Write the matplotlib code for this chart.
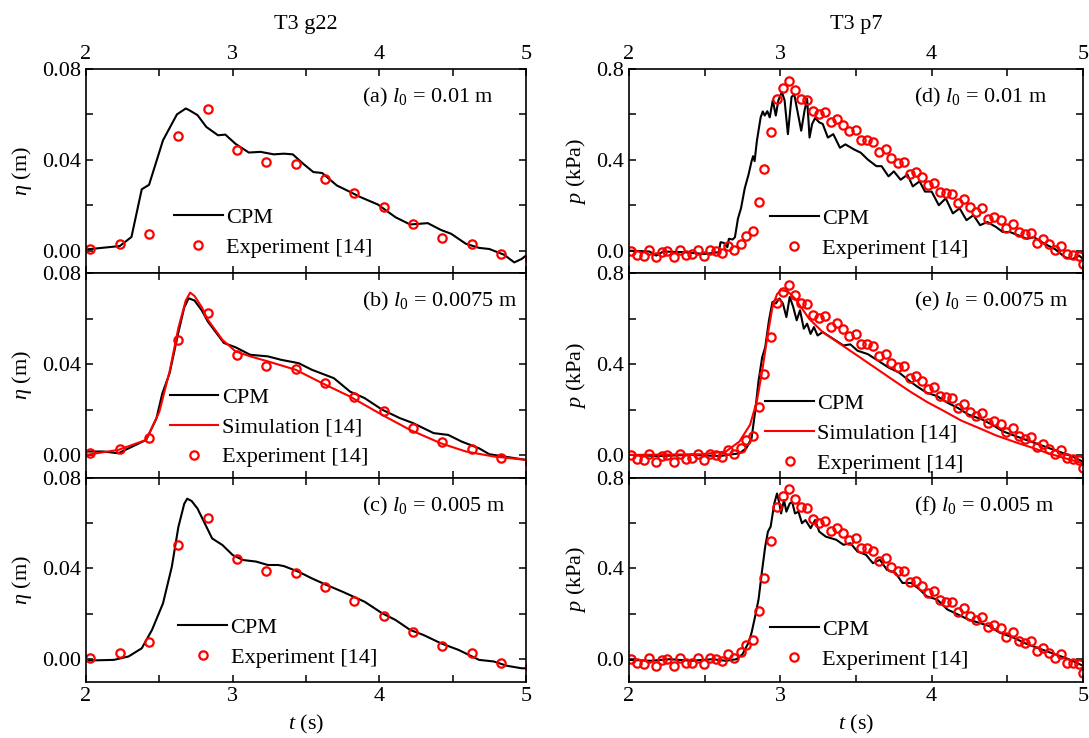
import matplotlib
matplotlib.use("Agg")
import matplotlib.pyplot as plt
from matplotlib.ticker import MultipleLocator, FormatStrFormatter

plt.rcParams['font.family'] = 'serif'
plt.rcParams['font.serif'] = ['Liberation Serif', 'DejaVu Serif']
plt.rcParams['mathtext.fontset'] = 'custom'
plt.rcParams['mathtext.rm'] = 'Liberation Serif'
plt.rcParams['mathtext.it'] = 'Liberation Serif:italic'
plt.rcParams['font.size'] = 16

# ---- T3 g22 : free surface elevation (m) ----
exp_g_t = [2.03, 2.23, 2.43, 2.63, 2.83, 3.03, 3.23, 3.43, 3.63, 3.83, 4.03, 4.23, 4.43, 4.63, 4.83, 5.03]
exp_g = [0.0007, 0.0027, 0.0074, 0.0505, 0.0623, 0.0442, 0.039, 0.038, 0.0317, 0.0255,
         0.0192, 0.0118, 0.0056, 0.0027, -0.0015, -0.0035]

cpm_a_t = [2.0, 2.23, 2.31, 2.38, 2.43, 2.525, 2.62, 2.68, 2.70, 2.76, 2.82, 2.90, 2.95, 3.02, 3.11,
           3.19, 3.28, 3.35, 3.41, 3.48, 3.55, 3.61, 3.71, 3.78, 3.87, 3.99, 4.11, 4.21, 4.33, 4.42,
           4.49, 4.59, 4.68, 4.75, 4.85, 4.92, 4.97, 5.0]
cpm_a = [0.0005, 0.002, 0.006, 0.027, 0.029, 0.0486, 0.060, 0.0626, 0.062, 0.0597, 0.0545, 0.0508,
         0.0511, 0.047, 0.0432, 0.0435, 0.0424, 0.0427, 0.0424, 0.0383, 0.0346, 0.0342, 0.0287,
         0.0265, 0.0236, 0.0203, 0.0147, 0.0115, 0.0121, 0.0091, 0.0074, 0.003, 0.0012, 0.0007,
         -0.0018, -0.0052, -0.0037, -0.0022]

cpm_b_t = [2.0, 2.12, 2.22, 2.41, 2.48, 2.52, 2.57, 2.63, 2.67, 2.70, 2.74, 2.79, 2.83, 2.94, 3.02,
           3.12, 3.24, 3.33, 3.45, 3.54, 3.69, 3.80, 3.90, 4.02, 4.14, 4.23, 4.37, 4.47, 4.56, 4.68,
           4.75, 4.85, 5.0]
cpm_b = [0.0015, 0.0015, 0.0007, 0.0066, 0.016, 0.027, 0.036, 0.054, 0.065, 0.069, 0.068, 0.0636,
         0.0588, 0.0493, 0.0474, 0.0441, 0.0434, 0.0419, 0.0404, 0.0375, 0.0338, 0.0279, 0.025,
         0.0199, 0.0162, 0.014, 0.0096, 0.0088, 0.0059, 0.0029, 0.0003, -0.0007, -0.0022]

sim_b_t = [2.0, 2.22, 2.41, 2.50, 2.57, 2.63, 2.68, 2.71, 2.74, 2.79, 2.83, 2.93, 3.02, 3.12, 3.24,
           3.43, 3.61, 3.80, 4.02, 4.21, 4.42, 4.59, 4.78, 5.0]
sim_b = [0.0, 0.0022, 0.0066, 0.019, 0.0368, 0.056, 0.068, 0.0715, 0.070, 0.065, 0.0596, 0.0507,
         0.0456, 0.0434, 0.0412, 0.0375, 0.0316, 0.0257, 0.0176, 0.011, 0.0051, 0.0015, -0.0007,
         -0.0022]

cpm_c_t = [2.0, 2.19, 2.29, 2.38, 2.45, 2.525, 2.585, 2.63, 2.67, 2.69, 2.72, 2.76, 2.81, 2.86, 2.93,
           3.00, 3.07, 3.16, 3.24, 3.31, 3.35, 3.45, 3.54, 3.64, 3.75, 3.90, 4.02, 4.11, 4.21, 4.30,
           4.42, 4.54, 4.68, 4.78, 4.87, 4.97, 5.0]
cpm_c = [-0.0006, -0.0003, 0.0012, 0.0048, 0.0129, 0.0246, 0.0407, 0.0583, 0.0685, 0.0707, 0.0697,
         0.0664, 0.0598, 0.0532, 0.0503, 0.0459, 0.0437, 0.043, 0.0415, 0.0415, 0.041, 0.0385,
         0.0356, 0.0327, 0.0297, 0.0253, 0.0202, 0.0173, 0.0129, 0.0107, 0.007, 0.0041, -0.0003,
         -0.001, -0.0029, -0.004, -0.004]

# ---- T3 p7 : pressure (kPa) ----
exp_p_t = [2.016, 2.055, 2.096, 2.135, 2.176, 2.218, 2.254, 2.295, 2.337, 2.376, 2.414, 2.456, 2.497,
           2.536, 2.575, 2.616, 2.655, 2.696, 2.737, 2.776, 2.818, 2.856, 2.895, 2.937, 2.976, 3.017,
           3.058, 3.097, 3.138, 3.177, 3.216, 3.257, 3.296, 3.335, 3.376, 3.417, 3.456, 3.498, 3.532,
           3.573, 3.614, 3.653, 3.695, 3.733, 3.775, 3.816, 3.855, 3.896, 3.935, 3.974, 4.013, 4.054,
           4.095, 4.134, 4.173, 4.214, 4.253, 4.294, 4.333, 4.375, 4.414, 4.455, 4.494, 4.535, 4.574,
           4.615, 4.654, 4.695, 4.734, 4.775, 4.814, 4.855, 4.894, 4.933, 4.975, 5.0]
exp_p = [0.000, -0.018, -0.022, 0.004, -0.030, -0.004, 0.000, -0.030, 0.004, -0.018, -0.015, 0.004,
         -0.022, 0.004, 0.000, -0.010, 0.022, 0.004, 0.030, 0.064, 0.085, 0.213, 0.358, 0.521, 0.669,
         0.718, 0.748, 0.706, 0.669, 0.665, 0.617, 0.602, 0.610, 0.565, 0.580, 0.555, 0.525, 0.532,
         0.488, 0.488, 0.478, 0.434, 0.446, 0.406, 0.387, 0.390, 0.339, 0.346, 0.324, 0.290, 0.300,
         0.260, 0.253, 0.250, 0.208, 0.226, 0.190, 0.171, 0.186, 0.141, 0.149, 0.137, 0.100, 0.119,
         0.082, 0.071, 0.079, 0.034, 0.049, 0.027, 0.004, 0.022, -0.015, -0.018, -0.022, -0.059]

cpm_d_t = [2.0, 2.135, 2.18, 2.227, 2.364, 2.5, 2.593, 2.605, 2.627, 2.65, 2.66, 2.685, 2.70, 2.72,
           2.74, 2.765, 2.79, 2.81, 2.82, 2.83, 2.845, 2.87, 2.884, 2.897, 2.914, 2.93, 2.95, 2.97,
           2.987, 3.01, 3.028, 3.05, 3.074, 3.092, 3.108, 3.138, 3.16, 3.177, 3.193, 3.21, 3.23,
           3.257, 3.28, 3.314, 3.35, 3.394, 3.43, 3.486, 3.532, 3.578, 3.635, 3.669, 3.715, 3.75,
           3.795, 3.84, 3.875, 3.92, 3.956, 4.0, 4.047, 4.093, 4.14, 4.185, 4.23, 4.276, 4.32, 4.368,
           4.425, 4.47, 4.516, 4.574, 4.63, 4.677, 4.746, 4.814, 4.883, 4.93, 4.975, 5.0]
cpm_d = [0.0, -0.004, -0.022, -0.004, -0.007, -0.015, -0.007, 0.037, 0.034, 0.015, 0.052, 0.049,
         0.059, 0.141, 0.186, 0.275, 0.335, 0.394, 0.416, 0.394, 0.483, 0.587, 0.613, 0.595, 0.614,
         0.587, 0.662, 0.595, 0.662, 0.699, 0.662, 0.513, 0.677, 0.688, 0.632, 0.528, 0.617, 0.669,
         0.498, 0.558, 0.584, 0.565, 0.558, 0.498, 0.513, 0.453, 0.468, 0.446, 0.431, 0.401, 0.372,
         0.372, 0.327, 0.349, 0.312, 0.335, 0.283, 0.305, 0.260, 0.26, 0.2, 0.23, 0.164, 0.186,
         0.134, 0.156, 0.112, 0.126, 0.104, 0.082, 0.082, 0.067, 0.052, 0.059, 0.030, 0.007, -0.030,
         -0.037, -0.022, -0.037]

cpm_e_t = [2.0, 2.2, 2.4, 2.6, 2.73, 2.776, 2.81, 2.834, 2.856, 2.88, 2.90, 2.925, 2.948, 2.97,
           2.994, 3.017, 3.04, 3.062, 3.085, 3.108, 3.13, 3.155, 3.177, 3.2, 3.222, 3.246, 3.28,
           3.35, 3.417, 3.463, 3.51, 3.578, 3.646, 3.715, 3.784, 3.853, 3.898, 3.967, 4.036, 4.104,
           4.173, 4.242, 4.333, 4.4, 4.47, 4.562, 4.654, 4.746, 4.838, 4.93, 5.0]
cpm_e = [0.0, -0.005, 0.0, -0.005, 0.007, 0.03, 0.074, 0.193, 0.326, 0.43, 0.474, 0.593, 0.674,
         0.667, 0.689, 0.667, 0.607, 0.696, 0.652, 0.593, 0.637, 0.556, 0.578, 0.533, 0.563, 0.526,
         0.541, 0.511, 0.482, 0.487, 0.459, 0.444, 0.415, 0.385, 0.363, 0.326, 0.304, 0.274, 0.259,
         0.23, 0.207, 0.178, 0.156, 0.133, 0.104, 0.081, 0.059, 0.037, 0.015, -0.007, -0.03]

sim_e_t = [2.0, 2.48, 2.64, 2.73, 2.8, 2.845, 2.88, 2.914, 2.948, 2.978, 3.005, 3.05, 3.097, 3.19,
           3.28, 3.395, 3.51, 3.624, 3.738, 3.853, 3.967, 4.082, 4.196, 4.31, 4.425, 4.54, 4.654,
           4.77, 4.883, 5.0]
sim_e = [0.0, 0.003, 0.015, 0.059, 0.133, 0.237, 0.37, 0.519, 0.652, 0.708, 0.726, 0.719, 0.689,
         0.6, 0.541, 0.489, 0.437, 0.385, 0.333, 0.281, 0.234, 0.193, 0.151, 0.119, 0.086, 0.059,
         0.034, 0.007, -0.015, -0.037]

cpm_f_t = [2.0, 2.14, 2.27, 2.41, 2.55, 2.64, 2.71, 2.75, 2.79, 2.81, 2.834, 2.856, 2.88, 2.90,
           2.918, 2.936, 2.96, 2.978, 2.994, 3.005, 3.024, 3.04, 3.062, 3.078, 3.097, 3.12, 3.143,
           3.166, 3.2, 3.23, 3.257, 3.3, 3.37, 3.417, 3.463, 3.51, 3.566, 3.612, 3.658, 3.704, 3.761,
           3.807, 3.864, 3.921, 3.967, 4.036, 4.104, 4.173, 4.242, 4.31, 4.38, 4.449, 4.54, 4.632,
           4.723, 4.814, 4.906, 5.0]
cpm_f = [-0.003, -0.007, 0.0, -0.007, 0.0, -0.007, 0.0, 0.022, 0.073, 0.117, 0.19, 0.263, 0.394,
         0.496, 0.562, 0.584, 0.686, 0.73, 0.686, 0.642, 0.701, 0.65, 0.686, 0.693, 0.642, 0.65,
         0.599, 0.613, 0.577, 0.613, 0.562, 0.54, 0.526, 0.504, 0.511, 0.474, 0.46, 0.423, 0.438,
         0.394, 0.38, 0.336, 0.336, 0.307, 0.277, 0.263, 0.219, 0.197, 0.175, 0.161, 0.146, 0.117,
         0.095, 0.066, 0.044, 0.022, 0.0, -0.029]

left_tags = ["(a) $l_0$ = 0.01 m", "(b) $l_0$ = 0.0075 m", "(c) $l_0$ = 0.005 m"]
right_tags = ["(d) $l_0$ = 0.01 m", "(e) $l_0$ = 0.0075 m", "(f) $l_0$ = 0.005 m"]

W, H = 1089, 738
fig = plt.figure(figsize=(W / 100, H / 100), dpi=100)

row_h = 204.3
tops = [69, 69 + row_h, 69 + 2 * row_h]


def make_ax(x0, w, top):
    return fig.add_axes([x0 / W, 1 - (top + row_h) / H, w / W, row_h / H])


def style(ax, row, ylim, ymaj, fmt):
    ax.set_xlim(2, 5)
    ax.set_ylim(*ylim)
    ax.xaxis.set_major_locator(MultipleLocator(1))
    ax.xaxis.set_minor_locator(MultipleLocator(0.5))
    ax.yaxis.set_major_locator(MultipleLocator(ymaj))
    ax.yaxis.set_minor_locator(MultipleLocator(ymaj / 2))
    ax.yaxis.set_major_formatter(FormatStrFormatter(fmt))
    ax.tick_params(which='both', direction='in', top=True, right=True, length=5, width=1.1,
                   labelsize=16, labeltop=(row == 0), labelbottom=(row == 2))
    for s in ax.spines.values():
        s.set_linewidth(1.2)


mk = dict(ls='none', marker='o', ms=6, mfc='none', mec='red', mew=1.6)
leg_kw = dict(loc='lower left', frameon=False, fontsize=16, handlelength=2.2, handletextpad=0.15,
              labelspacing=0.42, borderpad=0, borderaxespad=0)

# left column
left_cpm = [(cpm_a_t, cpm_a), (cpm_b_t, cpm_b), (cpm_c_t, cpm_c)]
left_leg = [(0.20, 0.075), (0.19, 0.05), (0.21, 0.07)]
for i in range(3):
    ax = make_ax(86, 440, tops[i])
    ax.plot(left_cpm[i][0], left_cpm[i][1], color='black', lw=1.5, label='CPM')
    if i == 1:
        ax.plot(sim_b_t, sim_b, color='red', lw=1.5, label='Simulation [14]')
    ax.plot(exp_g_t, exp_g, label='Experiment [14]', **mk)
    style(ax, i, (-0.01, 0.08), 0.04, '%.2f')
    ax.set_ylabel(r"$\eta$ (m)", fontsize=16, labelpad=6)
    ax.text(0.627, 0.86, left_tags[i], transform=ax.transAxes, fontsize=16, va='center', ha='left')
    ax.legend(bbox_to_anchor=left_leg[i], **leg_kw)
    if i == 0:
        ax.set_title("T3 g22", fontsize=16, pad=29)
    if i == 2:
        ax.set_xlabel(r"$t$ (s)", fontsize=16, labelpad=5)

# right column
right_cpm = [(cpm_d_t, cpm_d), (cpm_e_t, cpm_e), (cpm_f_t, cpm_f)]
right_leg = [(0.31, 0.07), (0.30, 0.02), (0.31, 0.06)]
for i in range(3):
    ax = make_ax(629, 454, tops[i])
    ax.plot(right_cpm[i][0], right_cpm[i][1], color='black', lw=1.5, label='CPM')
    if i == 1:
        ax.plot(sim_e_t, sim_e, color='red', lw=1.5, label='Simulation [14]')
    ax.plot(exp_p_t, exp_p, label='Experiment [14]', **mk)
    style(ax, i, (-0.1, 0.8), 0.4, '%.1f')
    ax.set_ylabel(r"$p$ (kPa)", fontsize=16, labelpad=6)
    ax.text(0.628, 0.86, right_tags[i], transform=ax.transAxes, fontsize=16, va='center', ha='left')
    ax.legend(bbox_to_anchor=right_leg[i], **leg_kw)
    if i == 0:
        ax.set_title("T3 p7", fontsize=16, pad=29)
    if i == 2:
        ax.set_xlabel(r"$t$ (s)", fontsize=16, labelpad=5)

fig.savefig("out.png", dpi=100)
